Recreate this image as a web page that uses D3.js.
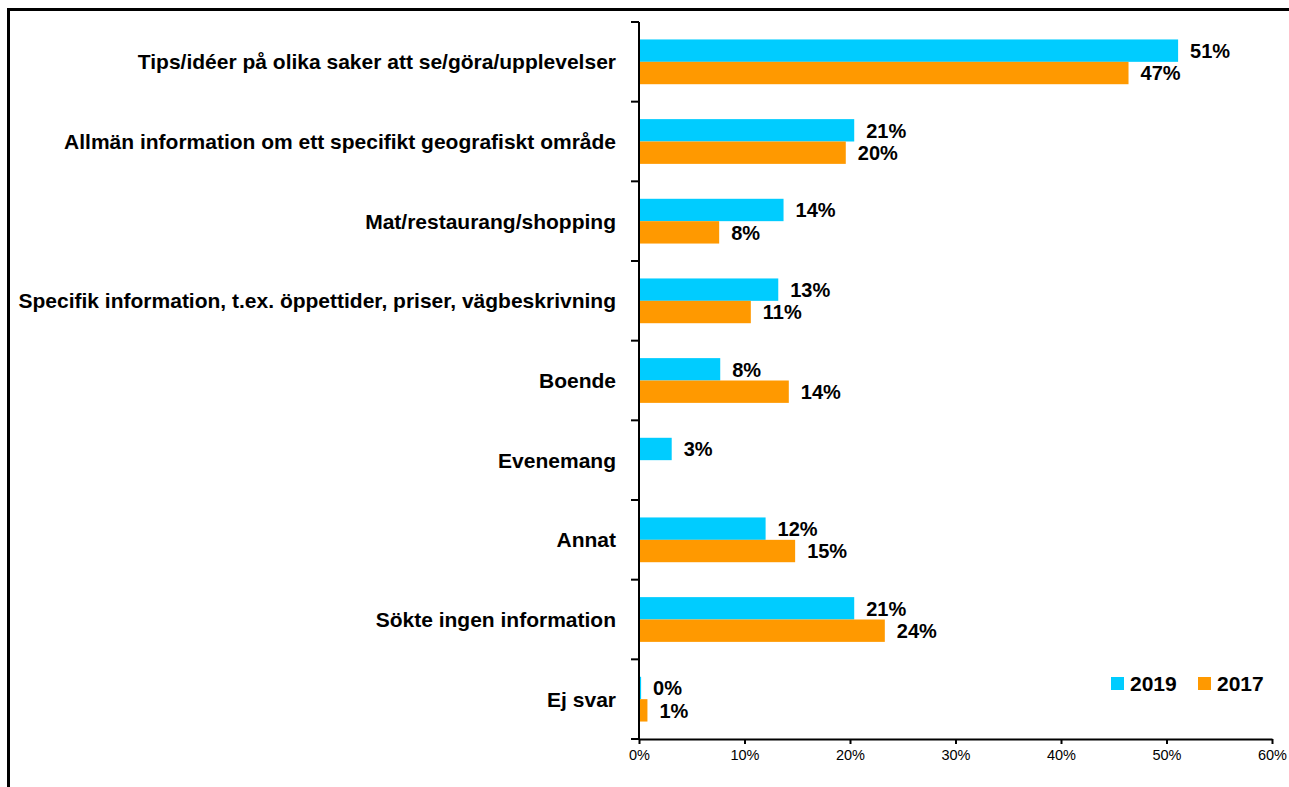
<!DOCTYPE html>
<html>
<head>
<meta charset="utf-8">
<script src="https://cdn.jsdelivr.net/npm/d3@7"></script>
<style>
    body { margin: 0; background: #fff; }
    svg text { font-family: Arial, "Liberation Sans", sans-serif; fill: #000; }
</style>
</head>
<body>
<div id="chart"></div>
<script>
    // categories, top to bottom
    var categories = [
        "Tips/idéer på olika saker att se/göra/upplevelser",
        "Allmän information om ett specifikt geografiskt område",
        "Mat/restaurang/shopping",
        "Specifik information, t.ex. öppettider, priser, vägbeskrivning",
        "Boende",
        "Evenemang",
        "Annat",
        "Sökte ingen information",
        "Ej svar"
    ];
    var seriesNames = ["2019", "2017"];
    // bar lengths in percent
    var values2019 = [51.1, 20.4, 13.7, 13.2, 7.7, 3.1, 12.0, 20.4, 0.2];
    var values2017 = [46.4, 19.6, 7.6, 10.6, 14.2, 0, 14.8, 23.3, 0.8];
    // printed labels
    var labels2019 = ["51%", "21%", "14%", "13%", "8%", "3%", "12%", "21%", "0%"];
    var labels2017 = ["47%", "20%", "8%", "11%", "14%", "", "15%", "24%", "1%"];
    var xTicks = [0, 10, 20, 30, 40, 50, 60];

    var colors = {"2019": "#00ccff", "2017": "#ff9900"};

    var width = 1289, height = 787;
    var plot = {left: 639, right: 1272, top: 22, bottom: 739};

    var svg = d3.select("#chart").append("svg")
            .attr("width", width)
            .attr("height", height);

    // outer frame (right and bottom edges fall outside the picture)
    svg.append("rect")
            .attr("x", 8.5).attr("y", 9.5)
            .attr("width", 1300).attr("height", 800)
            .attr("fill", "none")
            .attr("stroke", "#000")
            .attr("stroke-width", 3);

    var x = d3.scaleLinear().domain([0, 60]).range([plot.left, plot.right]);
    var y = d3.scaleBand().domain(categories).range([plot.top, plot.bottom]).padding(0);
    var ySub = d3.scaleBand().domain(seriesNames).range([0, y.bandwidth()])
            .paddingInner(0).paddingOuter(0.78);

    var data = categories.map(function (c, i) {
        return {
            cat: c,
            bars: [
                {series: "2019", value: values2019[i], label: labels2019[i]},
                {series: "2017", value: values2017[i], label: labels2017[i]}
            ]
        };
    });

    var groups = svg.append("g").selectAll("g")
            .data(data).enter().append("g")
            .attr("transform", function (d) { return "translate(0," + y(d.cat) + ")"; });

    groups.selectAll("rect")
            .data(function (d) { return d.bars; })
            .enter().append("rect")
            .attr("x", x(0))
            .attr("y", function (d) { return ySub(d.series); })
            .attr("width", function (d) { return x(d.value) - x(0); })
            .attr("height", ySub.bandwidth())
            .attr("fill", function (d) { return colors[d.series]; });

    groups.selectAll("text.val")
            .data(function (d) { return d.bars; })
            .enter().append("text")
            .attr("class", "val")
            .attr("x", function (d) { return x(d.value) + 12; })
            .attr("y", function (d) { return ySub(d.series) + ySub.bandwidth() / 2; })
            .attr("dy", "0.36em")
            .style("font-size", "20px")
            .style("font-weight", "bold")
            .text(function (d) { return d.label; });

    // category labels
    svg.append("g").selectAll("text")
            .data(categories).enter().append("text")
            .attr("x", 616)
            .attr("y", function (d) { return y(d) + y.bandwidth() / 2; })
            .attr("dy", "0.36em")
            .attr("text-anchor", "end")
            .style("font-size", "21px")
            .style("font-weight", "bold")
            .text(function (d) { return d; });

    // y axis: line and ticks at category boundaries
    var yAxis = svg.append("g");
    yAxis.append("line")
            .attr("x1", plot.left).attr("x2", plot.left)
            .attr("y1", plot.top).attr("y2", plot.bottom)
            .attr("stroke", "#000").attr("stroke-width", 2);
    var bounds = categories.map(function (c) { return y(c); }).concat([plot.bottom]);
    yAxis.selectAll("line.tick")
            .data(bounds).enter().append("line")
            .attr("class", "tick")
            .attr("x1", plot.left - 8).attr("x2", plot.left)
            .attr("y1", function (d) { return d; })
            .attr("y2", function (d) { return d; })
            .attr("stroke", "#000").attr("stroke-width", 2);

    // x axis
    var xAxis = d3.axisBottom(x)
            .tickValues(xTicks)
            .tickSize(5)
            .tickSizeOuter(0)
            .tickFormat(function (d) { return d + "%"; });
    var gx = svg.append("g")
            .attr("transform", "translate(0," + plot.bottom + ")")
            .call(xAxis);
    gx.select(".domain").attr("stroke", "#000").attr("stroke-width", 2);
    gx.selectAll(".tick line").attr("stroke", "#000").attr("stroke-width", 2);
    gx.selectAll(".tick text")
            .attr("y", 11)
            .style("font-size", "14.5px")
            .style("font-family", "Arial, 'Liberation Sans', sans-serif")
            .attr("fill", "#000");

    // legend
    var legend = svg.append("g").attr("transform", "translate(1111,677)");
    var legendX = [0, 87];
    seriesNames.forEach(function (s, i) {
        legend.append("rect")
                .attr("x", legendX[i]).attr("y", 0)
                .attr("width", 13).attr("height", 13)
                .attr("fill", colors[s]);
        legend.append("text")
                .attr("x", legendX[i] + 19)
                .attr("y", 6.5)
                .attr("dy", "0.36em")
                .style("font-size", "21px")
                .style("font-weight", "bold")
                .text(s);
    });
</script>
</body>
</html>
